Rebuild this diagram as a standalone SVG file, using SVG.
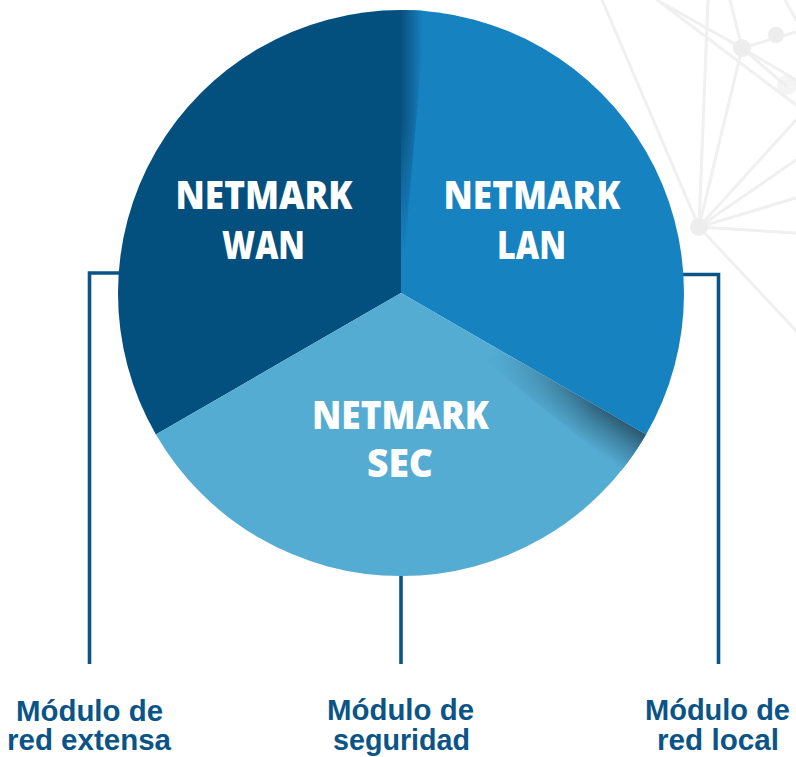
<svg xmlns="http://www.w3.org/2000/svg" width="796" height="757" viewBox="0 0 796 757">
<style>
.bg{stroke:#f0f0f0;stroke-width:3;fill:none;stroke-linecap:round}
.bgn{fill:#ededed}
.conn{stroke:#0b5487;stroke-width:3.6;fill:none}
.seg-title{font-family:"Open Sans","DejaVu Sans",sans-serif;font-weight:800;font-size:38px;fill:#ffffff;text-anchor:middle}
.lbl{font-family:"Liberation Sans",Arial,sans-serif;font-weight:700;font-size:29px;fill:#0b5487;text-anchor:middle}
</style>
<defs>
<radialGradient id="radA" gradientUnits="userSpaceOnUse" cx="401" cy="293" r="283">
<stop offset="0" stop-color="#000"/>
<stop offset="0.38" stop-color="#000"/>
<stop offset="0.8" stop-color="#fff"/>
<stop offset="1" stop-color="#fff"/>
</radialGradient>
<radialGradient id="radB" gradientUnits="userSpaceOnUse" cx="401" cy="293" r="283">
<stop offset="0" stop-color="#000"/>
<stop offset="0.15" stop-color="#000"/>
<stop offset="0.6" stop-color="#fff"/>
<stop offset="1" stop-color="#fff"/>
</radialGradient>
<mask id="maskA" maskUnits="userSpaceOnUse" x="0" y="0" width="796" height="757">
<rect x="0" y="0" width="796" height="757" fill="url(#radA)"/>
</mask>
<mask id="maskB" maskUnits="userSpaceOnUse" x="0" y="0" width="796" height="757">
<rect x="0" y="0" width="796" height="757" fill="url(#radB)"/>
</mask>
<linearGradient id="shadeSec" gradientUnits="userSpaceOnUse" x1="626.2" y1="423" x2="603.1" y2="456.6">
<stop offset="0" stop-color="#2d5b74"/>
<stop offset="0.45" stop-color="#3f83a3"/>
<stop offset="1" stop-color="#54acd3"/>
</linearGradient>
<linearGradient id="shadeTop" gradientUnits="userSpaceOnUse" x1="401" y1="0" x2="423" y2="0">
<stop offset="0" stop-color="#0b4f7c"/>
<stop offset="1" stop-color="#1682c0"/>
</linearGradient>
</defs>

<g id="background">
<line class="bg" x1="602" y1="0" x2="699" y2="227"/>
<line class="bg" x1="708" y1="0" x2="699" y2="227"/>
<line class="bg" x1="699" y1="227" x2="742" y2="48"/>
<line class="bg" x1="699" y1="227" x2="796" y2="233"/>
<line class="bg" x1="699" y1="227" x2="796" y2="198"/>
<line class="bg" x1="699" y1="227" x2="796" y2="160"/>
<line class="bg" x1="699" y1="227" x2="796" y2="120"/>
<line class="bg" x1="699" y1="227" x2="800" y2="335"/>
<line class="bg" x1="657" y1="0" x2="742" y2="48"/>
<line class="bg" x1="742" y1="48" x2="796" y2="80"/>
<line class="bg" x1="660" y1="2" x2="796" y2="105"/>
<line class="bg" x1="730" y1="0" x2="742" y2="48"/>
<line class="bg" x1="742" y1="48" x2="796" y2="32"/>
<line class="bg" x1="742" y1="48" x2="785" y2="85"/>
<line class="bg" x1="785" y1="0" x2="796" y2="20"/>
<circle class="bgn" cx="699" cy="227" r="9"/>
<circle class="bgn" cx="742" cy="48" r="9"/>
<circle class="bgn" cx="776" cy="35" r="8"/>
<circle class="bgn" cx="787" cy="85" r="10" opacity="0.6"/>
</g>

<g id="connectors">
<path class="conn" d="M89.5,664 V273 H200"/>
<path class="conn" d="M718.5,664 V274.5 H600"/>
<path class="conn" d="M401,664 V500"/>
</g>

<g id="wan">
<path d="M401,293 L401,10 A283,283 0 0 0 155.9,434.5 Z" fill="#03507f"/>
<text class="seg-title" x="264" y="209" textLength="177" lengthAdjust="spacingAndGlyphs">NETMARK</text>
<text class="seg-title" x="263.5" y="259" textLength="83" lengthAdjust="spacingAndGlyphs">WAN</text>
</g>

<g id="lan">
<path d="M401,293 L401,10 A283,283 0 0 1 646.1,434.5 Z" fill="#1682c0"/>
<path d="M401,293 L401,10 A283,283 0 0 1 425.7,11.1 Z" fill="url(#shadeTop)" mask="url(#maskB)"/>
<text class="seg-title" x="532" y="209" textLength="177" lengthAdjust="spacingAndGlyphs">NETMARK</text>
<text class="seg-title" x="531.5" y="259" textLength="69" lengthAdjust="spacingAndGlyphs">LAN</text>
</g>

<g id="sec">
<path d="M401,293 L646.1,434.5 A283,283 0 0 1 155.9,434.5 Z" fill="#54acd3"/>
<path d="M401,293 L646.1,434.5 A283,283 0 0 1 620.9,471.1 Z" fill="url(#shadeSec)" mask="url(#maskA)"/>
<text class="seg-title" x="400.5" y="429" textLength="177" lengthAdjust="spacingAndGlyphs">NETMARK</text>
<text class="seg-title" x="400" y="477" textLength="66" lengthAdjust="spacingAndGlyphs">SEC</text>
</g>

<g id="label-wan">
<text class="lbl" x="89.5" y="720.5" textLength="147" lengthAdjust="spacingAndGlyphs">Módulo de</text>
<text class="lbl" x="89" y="750" textLength="164" lengthAdjust="spacingAndGlyphs">red extensa</text>
</g>
<g id="label-sec">
<text class="lbl" x="400.5" y="720" textLength="147" lengthAdjust="spacingAndGlyphs">Módulo de</text>
<text class="lbl" x="401.5" y="749.5" textLength="137" lengthAdjust="spacingAndGlyphs">seguridad</text>
</g>
<g id="label-lan">
<text class="lbl" x="717.5" y="720" textLength="145" lengthAdjust="spacingAndGlyphs">Módulo de</text>
<text class="lbl" x="718" y="749.5" textLength="122" lengthAdjust="spacingAndGlyphs">red local</text>
</g>
</svg>
